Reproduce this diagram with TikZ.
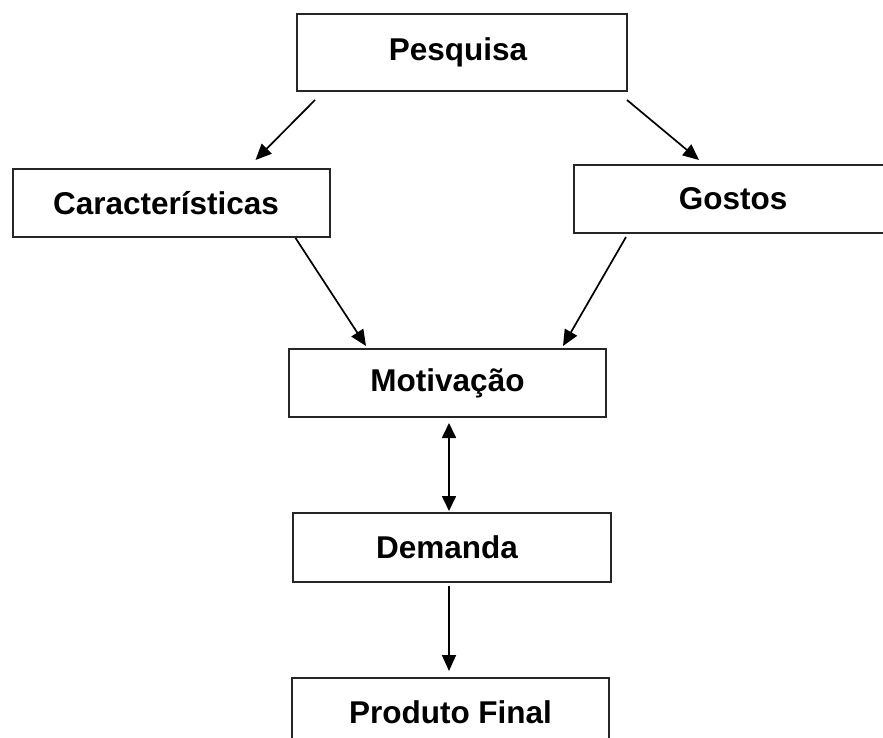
\documentclass[tikz,border=0pt]{standalone}
\usepackage{fontspec}
\setmainfont{Liberation Sans}
\usetikzlibrary{arrows.meta,calc}
\begin{document}
\begin{tikzpicture}[x=1pt,y=-1pt,
  box/.style={draw=black!85,line width=2pt,fill=white,inner sep=0pt,
    minimum width=317pt,minimum height=68pt,
    font=\fontsize{31.5}{36}\selectfont\bfseries},
  arr/.style={line width=1.7pt,-{Triangle[length=16pt,width=14pt]}},
  dbl/.style={line width=1.7pt,{Triangle[length=15pt,width=14pt]}-{Triangle[length=15pt,width=14pt]}}]
\useasboundingbox (0,0) rectangle (883,738);
\clip (0,0) rectangle (883,738);
\fill[white] (0,0) rectangle (883,738);
\node[box,minimum width=330pt,minimum height=77pt] (pesq) at (462,52.5) {\hspace*{-8pt}Pesquisa};
\node[box] (carac) at (171,203) {\hspace*{-10pt}Características};
\node[box,minimum width=318pt] (gost) at (733,199) {Gostos};
\node[box] (motiv) at (447.5,383) {Motivação};
\node[box,minimum width=318pt,minimum height=69pt] (dem) at (452,547.5) {\hspace*{-10pt}Demanda};
\node[box] (prod) at (450.5,712) {Produto Final};
\draw[arr] ([xshift=19pt,yshift=-8pt]pesq.south west) -- ([xshift=-75pt,yshift=8pt]carac.north east);
\draw[arr] ([xshift=-1pt,yshift=-8pt]pesq.south east) -- ([xshift=126pt,yshift=4pt]gost.north west);
\draw[arr] ([xshift=-35pt,yshift=0pt]carac.south east) -- ([xshift=78pt,yshift=2pt]motiv.north west);
\draw[arr] ([xshift=53pt,yshift=-3pt]gost.south west) -- ([xshift=-44pt,yshift=2pt]motiv.north east);
\draw[dbl] ([xshift=1.5pt,yshift=-5pt]motiv.south) -- ([xshift=-3pt,yshift=1pt]dem.north);
\draw[arr] ([xshift=-3pt,yshift=-3pt]dem.south) -- ([xshift=-1.5pt,yshift=6pt]prod.north);
\end{tikzpicture}
\end{document}
